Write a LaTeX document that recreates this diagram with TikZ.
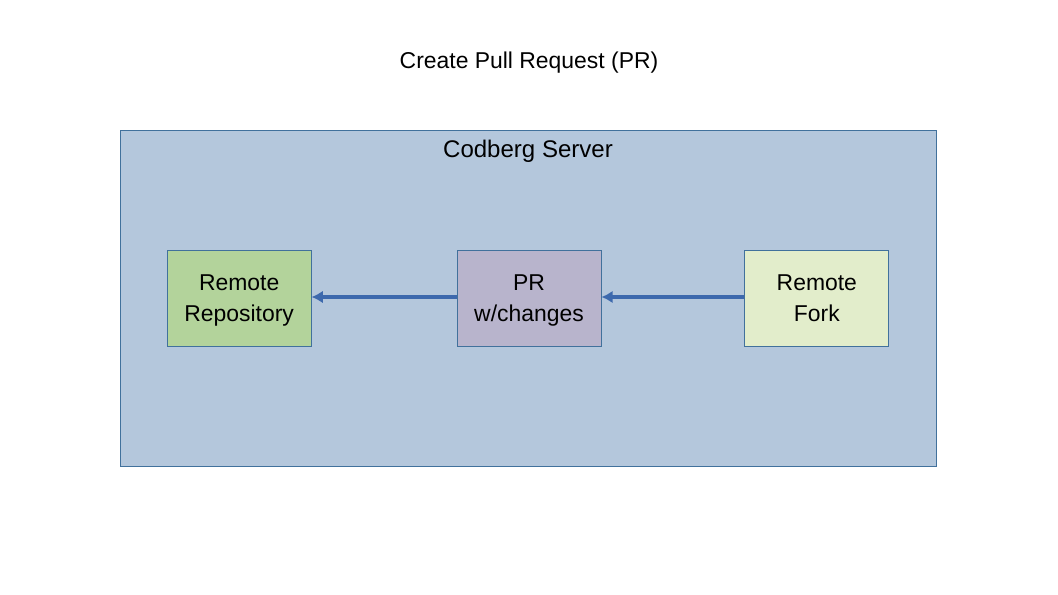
\documentclass[tikz,border=0pt]{standalone}
\usepackage{fontspec}
\setmainfont{Liberation Sans}
\usetikzlibrary{positioning, arrows.meta}
\definecolor{serverfill}{HTML}{B4C7DC}
\definecolor{serverline}{HTML}{41719C}
\definecolor{repofill}{HTML}{B3D39B}
\definecolor{prfill}{HTML}{B8B4CC}
\definecolor{forkfill}{HTML}{E2EDCB}
\definecolor{arrowblue}{HTML}{3D69AD}

\begin{document}
\begin{tikzpicture}[box/.style={rectangle,
      draw=serverline,
      line width=0.6pt,
      minimum width=3.6cm,
      minimum height=2.4cm,
      align=center,
      text depth=0pt,
      font=\fontsize{16.3}{22.2}\selectfont},
    link/.style={-{Latex[length=8pt,width=9pt]},
      draw=arrowblue,
      line width=2.6pt}]
  \useasboundingbox (0,0) rectangle (26.45,-14.875);

% SERVER

  \node [font=\fontsize{16.3}{22}\selectfont] (title) at (13.225,-1.575)
    {Create Pull Request (PR)};

  \node [rectangle, draw=serverline, line width=0.6pt, fill=serverfill,
    minimum width=20.4cm, minimum height=8.4cm] (server) at (13.2,-7.45) {};

  \node [font=\fontsize{17.1}{22}\selectfont] (servertitle) at (13.2,-3.78)
    {Codberg Server};

% REPOSITORIES

  \node [box, fill=prfill] (pr) at (13.225,-7.45) {PR\\w/changes};

  \node [box, fill=repofill, left=3.625cm of pr] (repo)
    {Remote\\Repository};

  \node [box, fill=forkfill, right=3.575cm of pr] (fork)
    {Remote\\Fork};

  % PULL REQUEST FLOW

  \draw [link] ([yshift=0.025cm]fork.west) -- ([yshift=0.025cm]pr.east);
  \draw [link] ([yshift=0.025cm]pr.west) -- ([yshift=0.025cm]repo.east);

\end{tikzpicture}
\end{document}
